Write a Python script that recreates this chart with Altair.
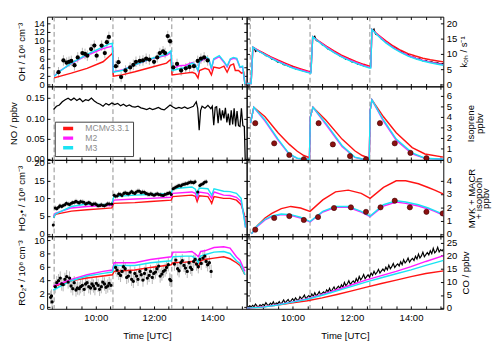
import altair as alt
import pandas as pd

FONT = "Liberation Sans"
MODELS = ["MCMv3.3.1", "M2", "M3"]
MODEL_COLORS = ["#ff1414", "#ff1aff", "#1ae3f3"]
ISO_OBS_COLOR = "#8b1010"
EXP_START = [8.57, 10.59, 12.61]
X_TICKS = [8.5, 9.0, 9.5, 10.0, 10.5, 11.0, 11.5, 12.0, 12.5, 13.0, 13.5, 14.0, 14.5, 15.0]
XDOM_L = [8.33, 15.18]
XDOM_R = [8.45, 15.09]
W_L, W_R = 209, 206
ROW_H = [73, 77, 80, 76]

# ---------------- OH (10^6 cm-3) ----------------
OH_OBS = [(8.72, 2.8), (8.89, 5.5), (9.00, 5.0), (9.08, 5.2), (9.16, 5.4), (9.27, 4.4), (9.38, 6.2),
          (9.54, 7.2), (9.63, 7.0), (9.71, 6.6), (9.84, 8.1), (9.95, 8.9), (10.03, 6.6), (10.20, 8.9),
          (10.31, 7.2), (10.38, 9.7), (10.45, 10.9),
          (10.69, 4.2), (10.78, 5.1), (10.87, 1.7), (11.02, 3.2), (11.18, 3.9), (11.29, 4.5), (11.38, 5.2),
          (11.51, 5.4), (11.62, 5.5), (11.73, 5.9), (11.84, 5.7), (12.00, 5.2), (12.11, 6.2), (12.20, 7.2),
          (12.31, 7.6), (12.38, 7.2), (12.47, 11.1), (12.55, 9.9),
          (12.66, 3.9), (12.79, 4.7), (12.93, 3.2), (13.09, 3.7), (13.22, 4.0), (13.37, 4.2), (13.50, 5.4),
          (13.61, 5.9), (13.72, 6.2), (13.84, 5.5)]
OH_ERR = 1.2
OH_MCM = [(8.57, 1.5), (9.16, 2.6), (9.70, 3.7), (10.25, 5.2), (10.55, 7.0), (10.58, 7.3),
          (10.60, 1.9), (10.90, 2.2), (11.34, 2.9), (11.88, 3.9), (12.43, 4.9), (12.58, 5.8),
          (12.62, 2.2), (13.09, 2.6), (13.31, 2.8), (13.42, 2.5), (13.51, 1.5), (13.56, 3.2), (13.75, 3.7),
          (13.88, 3.4), (13.97, 2.2), (14.05, 4.0), (14.24, 3.7), (14.40, 4.2), (14.51, 2.8), (14.62, 4.4),
          (14.73, 4.7), (14.79, 3.2), (14.90, 3.2), (15.00, 2.6), (15.08, 2.8), (15.12, 0.1)]
OH_T = [8.57, 8.72, 9.16, 9.70, 10.25, 10.47, 10.57, 10.60, 10.90, 11.34, 11.88, 12.43, 12.58, 12.62, 12.87,
        13.09, 13.31, 13.42, 13.51, 13.56, 13.69, 13.80, 13.88, 13.97, 14.05, 14.24, 14.40, 14.51, 14.62,
        14.73, 14.84, 14.95, 15.04, 15.12]
OH_M2 = [1.9, 2.9, 4.8, 6.7, 8.2, 8.6, 8.8, 2.9, 3.3, 4.5, 5.8, 6.7, 7.3, 3.6, 4.3, 4.4, 5.0, 4.5, 3.1, 5.1,
         5.7, 6.0, 5.7, 3.6, 5.7, 6.4, 5.1, 4.0, 5.7, 6.0, 5.8, 3.9, 4.0, 0.1]
OH_M3 = [1.8, 2.8, 4.9, 6.9, 8.6, 9.3, 9.4, 2.8, 3.2, 4.5, 5.9, 6.9, 7.7, 3.2, 3.6, 3.9, 4.9, 4.5, 3.2, 5.2,
         5.9, 6.2, 5.9, 3.7, 5.9, 6.6, 5.3, 4.2, 5.9, 6.2, 6.0, 4.0, 4.2, 0.1]

# ---------------- kOH (s-1) ----------------
KOH_T = [8.45, 8.60, 8.66, 8.80, 9.00, 9.25, 9.50, 9.75, 10.00, 10.25, 10.58, 10.62, 10.68, 10.90, 11.15,
         11.40, 11.65, 11.90, 12.15, 12.40, 12.60, 12.64, 12.68, 12.90, 13.15, 13.40, 13.65, 13.90, 14.15,
         14.40, 14.65, 14.90, 15.10]
KOH_MCM = [0.3, 0.3, 12.2, 11.4, 10.4, 9.1, 8.0, 7.0, 6.0, 5.2, 4.2, 4.2, 15.6, 14.1, 12.5, 11.0, 9.6, 8.5,
           7.5, 6.6, 6.0, 6.0, 18.0, 16.2, 14.3, 12.6, 11.2, 10.1, 9.3, 8.6, 8.1, 7.7, 7.4]
KOH_M2 = [0.3, 0.3, 12.2, 11.3, 10.2, 8.9, 7.7, 6.6, 5.6, 4.8, 3.9, 3.9, 15.6, 14.0, 12.2, 10.6, 9.2, 8.1,
          7.1, 6.2, 5.6, 5.6, 18.0, 16.0, 13.8, 12.1, 10.7, 9.5, 8.6, 7.9, 7.3, 6.8, 6.5]
KOH_M3 = [0.3, 0.3, 12.2, 11.2, 10.1, 8.7, 7.5, 6.4, 5.4, 4.6, 3.7, 3.7, 15.6, 13.8, 12.0, 10.4, 9.0, 7.9,
          6.9, 6.0, 5.4, 5.4, 18.0, 15.8, 13.6, 11.9, 10.5, 9.3, 8.4, 7.7, 7.1, 6.6, 6.3]
KOH_OBS_1 = [(8.66, 11.8), (8.70, 12.0), (8.75, 10.8), (8.80, 11.2), (8.90, 10.6), (9.00, 10.3), (9.10, 9.4),
             (9.20, 9.3), (9.30, 8.3), (9.40, 8.1), (9.50, 7.3), (9.60, 7.2), (9.70, 6.5), (9.80, 6.3),
             (9.90, 5.8), (10.00, 5.9), (10.10, 5.1), (10.20, 5.0), (10.30, 4.6), (10.40, 4.4), (10.50, 4.0)]
KOH_OBS_2 = [(10.70, 15.2), (10.75, 15.8), (10.80, 14.4), (10.90, 14.0), (11.00, 13.0), (11.10, 12.6),
             (11.20, 11.5), (11.30, 11.3), (11.40, 10.5), (11.50, 10.2), (11.60, 9.3), (11.70, 9.0),
             (11.80, 8.2), (11.90, 8.2), (12.00, 7.4), (12.10, 7.3), (12.20, 6.6), (12.30, 6.5),
             (12.40, 6.1), (12.50, 5.9)]
KOH_OBS_3 = [(12.70, 17.6), (12.75, 18.2), (12.80, 16.5), (12.90, 16.0), (13.00, 14.9), (13.10, 14.4),
             (13.20, 13.4), (13.30, 13.0), (13.40, 12.1), (13.50, 11.9), (13.60, 10.9), (13.70, 10.8),
             (13.80, 9.9), (13.90, 9.9), (14.00, 9.0), (14.10, 9.0), (14.20, 8.3), (14.30, 8.4),
             (14.40, 7.7), (14.50, 7.9), (14.60, 7.3), (14.70, 7.4), (14.80, 7.0), (14.90, 7.1),
             (15.00, 6.7), (15.10, 6.9)]

# ---------------- NO (ppbv) ----------------
NO_OBS = [(8.55, 0.122), (8.65, 0.130), (8.75, 0.133), (8.85, 0.141), (8.95, 0.146), (9.05, 0.150),
          (9.15, 0.145), (9.25, 0.150), (9.35, 0.144), (9.45, 0.149), (9.55, 0.141), (9.65, 0.146),
          (9.75, 0.144), (9.85, 0.150), (9.95, 0.143), (10.05, 0.138), (10.15, 0.135), (10.25, 0.130),
          (10.35, 0.137), (10.45, 0.133), (10.55, 0.138), (10.65, 0.134), (10.75, 0.137), (10.85, 0.131),
          (10.95, 0.135), (11.05, 0.130), (11.15, 0.133), (11.25, 0.129), (11.35, 0.128), (11.45, 0.130),
          (11.55, 0.126), (11.65, 0.124), (11.75, 0.122), (11.85, 0.125), (11.95, 0.122), (12.05, 0.124),
          (12.15, 0.127), (12.25, 0.123), (12.35, 0.121), (12.45, 0.127), (12.55, 0.133), (12.65, 0.128),
          (12.75, 0.124), (12.85, 0.127), (12.95, 0.125), (13.05, 0.128), (13.15, 0.124), (13.25, 0.127),
          (13.35, 0.130), (13.45, 0.141), (13.50, 0.125), (13.55, 0.071), (13.60, 0.120), (13.65, 0.130),
          (13.75, 0.125), (13.85, 0.132), (13.95, 0.124), (14.00, 0.130), (14.05, 0.083), (14.10, 0.127),
          (14.15, 0.129), (14.20, 0.088), (14.25, 0.125), (14.30, 0.095), (14.35, 0.120), (14.40, 0.100),
          (14.45, 0.126), (14.50, 0.090), (14.55, 0.112), (14.60, 0.083), (14.65, 0.120), (14.70, 0.085),
          (14.75, 0.125), (14.80, 0.080), (14.85, 0.118), (14.90, 0.082), (14.95, 0.080), (15.00, 0.125),
          (15.05, 0.082), (15.10, 0.080), (15.13, 0.000)]

# ---------------- Isoprene (ppbv) ----------------
ISO_T = [8.58, 8.69, 9.07, 9.51, 9.89, 10.16, 10.38, 10.57, 10.60, 10.69, 11.12, 11.67, 12.10, 12.35, 12.59,
         12.62, 12.68, 13.07, 13.50, 14.04, 14.47, 15.10]
ISO_MCM = [3.4, 4.9, 4.0, 2.5, 1.4, 0.75, 0.35, 0.15, 4.0, 4.9, 3.7, 1.9, 0.8, 0.35, 0.1, 4.6, 5.6, 4.0, 2.5,
           1.1, 0.5, 0.2]
ISO_M2 = [3.4, 4.9, 3.6, 1.8, 0.45, 0.08, 0.02, 0.0, 4.0, 4.9, 3.3, 1.2, 0.18, 0.02, 0.0, 4.6, 5.6, 3.6, 1.8,
          0.5, 0.08, 0.0]
ISO_M3 = [3.4, 4.9, 3.7, 1.9, 0.5, 0.1, 0.02, 0.0, 4.0, 4.9, 3.4, 1.3, 0.2, 0.02, 0.0, 4.6, 5.6, 3.7, 1.9,
          0.6, 0.1, 0.0]
ISO_OBS = [(8.74, 3.4), (9.38, 1.5), (9.89, 0.4), (10.38, 0.0), (10.88, 3.4), (11.36, 1.4), (11.94, 0.3),
           (12.48, 0.0), (12.95, 3.4), (13.45, 1.5), (13.98, 0.6), (14.52, 0.1)]

# ---------------- HO2 (10^8 cm-3) ----------------
HO2_OBS = [(8.54, 2.5), (8.61, 7.3), (8.72, 7.5), (8.83, 7.7), (8.94, 8.2), (9.05, 8.4), (9.16, 8.6),
           (9.27, 8.9), (9.38, 8.9), (9.48, 9.1), (9.59, 8.9), (9.70, 8.6), (9.81, 8.6), (9.92, 8.4),
           (10.03, 8.2), (10.14, 8.0), (10.25, 8.0), (10.36, 8.2), (10.47, 8.4), (10.55, 8.4),
           (10.63, 10.9), (10.74, 10.7), (10.85, 11.1), (10.96, 11.4), (11.07, 11.4), (11.17, 11.5),
           (11.28, 11.6), (11.39, 11.8), (11.50, 12.0), (11.61, 11.8), (11.72, 11.4), (11.83, 11.1),
           (11.94, 11.1), (12.05, 11.1), (12.16, 11.1), (12.27, 10.9), (12.37, 11.1), (12.48, 11.4),
           (12.59, 11.1), (12.65, 12.7), (12.76, 13.2), (12.86, 13.6), (12.97, 13.8), (13.08, 14.1),
           (13.19, 14.4), (13.30, 14.5), (13.41, 14.7), (13.50, 11.8), (13.57, 13.6), (13.68, 14.1),
           (13.79, 14.7),
           (8.66, 7.1), (8.77, 7.9), (8.88, 8.0), (8.99, 8.6), (9.10, 8.3), (9.21, 8.8), (9.32, 9.2),
           (9.43, 8.7), (9.54, 9.0), (9.65, 8.4), (9.76, 8.8), (9.87, 8.2), (9.98, 8.5), (10.08, 7.9),
           (10.19, 8.2), (10.30, 7.9), (10.41, 8.5), (10.68, 10.6), (10.79, 11.2), (10.90, 10.8),
           (11.01, 11.6), (11.12, 11.2), (11.23, 11.9), (11.34, 11.4), (11.45, 12.1), (11.56, 11.6),
           (11.67, 11.7), (11.78, 11.2), (11.89, 11.3), (12.00, 10.9), (12.11, 11.3), (12.22, 11.0),
           (12.32, 10.8), (12.43, 11.2), (12.54, 11.6), (12.70, 12.9), (12.81, 13.4), (12.92, 13.5),
           (13.03, 14.0), (13.14, 14.2), (13.25, 14.6), (13.36, 14.4), (13.62, 13.9), (13.73, 14.5)]
HO2_ERR = 0.7
HO2_T = [8.55, 8.61, 9.16, 9.70, 10.25, 10.55, 10.62, 11.34, 11.88, 12.59, 12.64, 13.30, 13.42, 13.48, 13.55,
         13.85, 13.93, 13.98, 14.06, 14.39, 14.61, 14.83, 14.99, 15.10, 15.14]
HO2_MCM = [4.5, 5.5, 6.4, 6.8, 7.1, 7.3, 8.6, 8.8, 9.1, 9.5, 10.5, 10.9, 10.6, 9.1, 10.7, 10.5, 9.4, 8.6,
           10.5, 10.0, 10.0, 9.5, 8.2, 5.5, 2.5]
HO2_M2 = [5.0, 5.8, 7.3, 7.7, 8.0, 8.0, 9.5, 9.8, 10.0, 10.3, 11.4, 11.8, 11.4, 10.0, 11.8, 11.4, 10.6, 10.0,
          11.8, 10.9, 10.8, 10.3, 9.1, 4.5, 1.8]
HO2_M3 = [4.5, 5.6, 7.7, 8.4, 8.2, 8.4, 10.5, 10.9, 11.1, 11.4, 12.7, 13.2, 12.6, 10.9, 12.9, 12.7, 11.6, 10.9,
          12.7, 12.0, 11.9, 11.4, 10.0, 4.0, 1.8]

# ---------------- MVK + MACR + isopooh (ppbv) ----------------
MVK_T = [8.61, 8.80, 9.07, 9.30, 9.62, 9.94, 10.27, 10.59, 11.02, 11.45, 11.88, 12.32, 12.62, 13.07, 13.50,
         13.82, 14.25, 14.58, 14.80, 15.10]
MVK_MCM = [0.0, 0.6, 1.2, 1.55, 1.9, 2.07, 1.95, 1.7, 2.56, 3.17, 3.3, 3.05, 2.68, 3.5, 4.0, 4.0, 3.78, 3.5,
           3.3, 3.0]
MVK_M2 = [0.0, 0.55, 1.05, 1.3, 1.45, 1.4, 1.2, 0.9, 1.65, 2.0, 2.0, 1.65, 1.3, 2.1, 2.4, 2.3, 2.1, 1.88,
          1.7, 1.4]
MVK_M3 = [0.0, 0.6, 1.1, 1.35, 1.5, 1.45, 1.25, 0.93, 1.7, 2.07, 2.07, 1.7, 1.34, 2.2, 2.5, 2.4, 2.2, 1.95,
          1.75, 1.46]
MVK_OBS = [(8.74, 0.32), (9.38, 1.2), (9.89, 1.34), (10.38, 1.05), (10.86, 1.27), (11.40, 1.95), (11.97, 2.0),
           (12.48, 1.66), (12.97, 2.0), (13.45, 2.5), (13.96, 2.0), (14.52, 1.66), (15.07, 1.54)]

# ---------------- RO2 (10^8 cm-3) ----------------
RO2_OBS = [(8.45, 1.4), (8.48, 1.6), (8.50, 0.7), (8.61, 3.0), (8.72, 3.9), (8.83, 3.4), (8.94, 4.1),
           (9.05, 3.7), (9.10, 4.3), (9.21, 2.7), (9.32, 2.5), (9.43, 2.7), (9.54, 3.2), (9.65, 3.4),
           (9.76, 3.0), (9.87, 3.4), (9.97, 2.7), (10.08, 3.2), (10.19, 3.0), (10.30, 3.4), (10.41, 3.1),
           (10.52, 3.2), (10.68, 5.9), (10.79, 5.0), (10.90, 5.3), (11.01, 5.7), (11.12, 4.6), (11.23, 4.1),
           (11.34, 5.0), (11.45, 4.1), (11.56, 4.8), (11.67, 5.0), (11.77, 4.3), (11.88, 5.3), (11.99, 5.0),
           (12.10, 5.7), (12.21, 4.6), (12.32, 5.3), (12.43, 5.9), (12.54, 4.1), (12.70, 6.4), (12.81, 5.7),
           (12.92, 6.6), (13.03, 6.2), (13.14, 5.3), (13.25, 5.9), (13.36, 6.8), (13.46, 6.4), (13.57, 7.1),
           (13.68, 7.3), (13.79, 6.8), (13.90, 6.6), (13.96, 5.3),
           (8.66, 3.6), (8.78, 4.3), (8.88, 3.3), (9.00, 4.5), (9.15, 3.1), (9.26, 3.6), (9.37, 2.8),
           (9.48, 3.0), (9.60, 2.6), (9.70, 3.6), (9.82, 2.8), (9.92, 3.1), (10.02, 3.5), (10.13, 2.6),
           (10.24, 3.7), (10.35, 2.9), (10.46, 3.5), (10.73, 5.5), (10.85, 4.7), (10.95, 6.0), (11.06, 4.4),
           (11.18, 5.2), (11.29, 3.8), (11.40, 4.6), (11.51, 5.3), (11.62, 4.0), (11.72, 5.6), (11.83, 4.7),
           (11.94, 4.4), (12.05, 5.2), (12.16, 6.1), (12.27, 4.9), (12.38, 5.5), (12.49, 6.3), (12.58, 3.9),
           (12.75, 7.0), (12.86, 5.4), (12.97, 6.9), (13.08, 5.8), (13.20, 6.6), (13.30, 5.6), (13.41, 7.1),
           (13.52, 6.0), (13.62, 6.5), (13.74, 7.6), (13.84, 6.3)]
RO2_ERR = 1.0
RO2_T = [8.54, 9.16, 9.70, 10.25, 10.57, 10.63, 11.34, 11.88, 12.59, 12.65, 13.08, 13.30, 13.45, 13.52, 13.60,
         13.74, 14.06, 14.39, 14.61, 14.83, 14.95, 15.05, 15.12]
RO2_MCM = [3.0, 3.9, 4.3, 4.6, 4.8, 5.3, 5.5, 5.9, 6.3, 6.6, 6.7, 6.8, 6.5, 5.9, 6.9, 7.1, 7.3, 7.5, 7.2, 6.6,
           6.2, 5.4, 4.8]
RO2_M2 = [3.1, 4.1, 4.8, 5.3, 5.5, 6.6, 6.6, 7.1, 7.5, 8.2, 8.2, 8.3, 7.8, 7.5, 8.3, 8.4, 8.9, 9.0, 8.8, 7.5,
          7.0, 6.0, 5.3]
RO2_M3 = [2.5, 3.9, 4.6, 5.0, 5.2, 6.2, 6.2, 6.6, 6.9, 7.5, 7.6, 7.6, 7.2, 6.6, 7.6, 7.8, 8.2, 8.3, 8.0, 6.9,
          6.5, 5.5, 4.8]

# ---------------- CO (ppbv) ----------------
CO_T = [8.45, 9.0, 9.5, 10.0, 10.5, 11.0, 11.5, 12.0, 12.5, 13.0, 13.5, 14.0, 14.5, 15.1]
CO_MCM = [0.0, 0.5, 1.2, 2.0, 2.8, 3.9, 5.2, 6.6, 8.0, 9.4, 10.7, 12.0, 13.2, 14.2]
CO_M2 = [0.0, 0.5, 1.3, 2.4, 3.6, 5.2, 7.0, 8.9, 10.8, 12.4, 14.0, 15.8, 17.8, 20.0]
CO_M3 = [0.0, 0.4, 1.2, 2.3, 3.4, 4.9, 6.6, 8.3, 10.0, 11.6, 13.1, 14.6, 16.3, 18.2]
CO_OBS_START, CO_OBS_STEP = 8.50, 0.05
CO_OBS = [0.4, 0.9, 0.3, 1.1, 0.6, 1.6, 0.8, 0.5, 1.3, 0.9, 1.5,
          1.0, 2.1, 1.3, 1.1, 1.9, 1.4, 2.4, 1.2, 2.0, 1.7,
          2.5, 1.6, 2.2, 3.1, 2.0, 2.7, 3.3, 2.3, 2.9, 3.6,
          2.8, 3.9, 3.2, 2.9, 4.4, 3.6, 4.1, 5.0, 3.5, 4.3,
          4.8, 4.1, 5.4, 4.5, 5.9, 4.7, 5.3, 6.3, 5.0, 5.7,
          6.2, 5.5, 7.0, 6.3, 7.6, 6.1, 7.2, 8.1, 6.8, 7.7,
          8.4, 7.5, 8.9, 8.0, 9.8, 8.6, 9.3, 10.5, 9.0, 9.8,
          10.4, 9.6, 11.3, 10.2, 12.1, 10.8, 11.6, 12.8, 11.2, 12.0,
          12.7, 11.8, 13.4, 12.5, 14.1, 12.9, 13.6, 14.8, 13.4, 14.2,
          14.9, 14.1, 15.6, 14.6, 16.4, 15.0, 15.8, 17.0, 15.5, 16.3,
          16.9, 16.1, 17.7, 16.6, 18.5, 17.2, 17.9, 19.1, 17.5, 18.4,
          19.0, 18.2, 19.8, 18.7, 20.6, 19.1, 19.9, 21.3, 19.6, 20.4,
          21.2, 20.3, 21.9, 20.8, 22.8, 21.1, 21.7, 23.2, 21.4, 22.3, 21.8, 22.6]

# ---------------- helpers ----------------
TICK = 3
COLOR_SCALE = alt.Scale(domain=MODELS, range=MODEL_COLORS)


def models_df(t, m2, m3, mcm, t_mcm=None):
    rows = []
    tm = t if t_mcm is None else t_mcm
    for a, b in zip(tm, mcm):
        rows.append({"t": a, "v": b, "model": MODELS[0]})
    for a, b in zip(t, m2):
        rows.append({"t": a, "v": b, "model": MODELS[1]})
    for a, b in zip(t, m3):
        rows.append({"t": a, "v": b, "model": MODELS[2]})
    return pd.DataFrame(rows)


def pairs_df(pairs, seg=0):
    return pd.DataFrame({"t": [p[0] for p in pairs], "v": [p[1] for p in pairs], "seg": seg})


def err_df(pairs, err):
    return pd.DataFrame({"t": [p[0] for p in pairs], "lo": [p[1] - err for p in pairs],
                         "hi": [p[1] + err for p in pairs]})


def xs(dom, axis):
    return alt.X("t:Q", scale=alt.Scale(domain=dom, nice=False, zero=False), axis=axis)


def ys(dom, axis, field="v"):
    return alt.Y(field + ":Q", scale=alt.Scale(domain=dom, nice=False, zero=False), axis=axis)


def y_axis(orient, values, title, tpad=8, lh=None):
    kw = dict(orient=orient, values=values, title=title, offset=-TICK, tickSize=TICK,
              labelPadding=3, titlePadding=tpad)
    if orient == "right":
        kw.update(titleAngle=270, titleBaseline="top")
    if lh is not None:
        kw["titleLineHeight"] = lh
    return alt.Axis(**kw)


def y_axis_opp(orient, values):
    return alt.Axis(orient=orient, values=values, offset=-TICK, tickSize=TICK, labels=False, title=None)


def x_axis_bottom(labels):
    if labels:
        return alt.Axis(orient="bottom", values=X_TICKS, offset=-TICK, tickSize=TICK,
                        labelExpr="datum.value % 2 == 0 ? datum.value + ':00' : ''",
                        title="Time [UTC]", labelPadding=4, titlePadding=9)
    return alt.Axis(orient="bottom", values=X_TICKS, offset=-TICK, tickSize=TICK, labels=False, title=None)


def x_axis_top():
    return alt.Axis(orient="top", values=X_TICKS, offset=-TICK, tickSize=TICK, labels=False, title=None)


def dashed(xdom):
    return alt.Chart(pd.DataFrame({"t": EXP_START})).mark_rule(
        color="#8c8c8c", strokeDash=[5, 3], strokeWidth=1).encode(x=xs(xdom, x_axis_top()))


def model_lines(df, xdom, ydom, yax, xax=None, legend=None):
    return alt.Chart(df).mark_line(strokeWidth=1.5, clip=True).encode(
        x=xs(xdom, xax), y=ys(ydom, yax),
        color=alt.Color("model:N", scale=COLOR_SCALE, legend=legend))


def obs_points(df, xdom, ydom, yax, size, color="black", stroke=None, xax=None):
    kw = dict(filled=True, size=size, color=color, opacity=1, clip=True)
    if stroke:
        kw.update(stroke=stroke, strokeWidth=0.6)
    return alt.Chart(df).mark_point(**kw).encode(x=xs(xdom, xax), y=ys(ydom, yax))


def obs_line(df, xdom, ydom, yax, width=1.1, xax=None):
    return alt.Chart(df).mark_line(color="black", strokeWidth=width, clip=True).encode(
        x=xs(xdom, xax), y=ys(ydom, yax), detail="seg:N")


def err_bars(df, xdom, ydom, yax, xax=None):
    return alt.Chart(df).mark_rule(color="#b4b4b4", strokeWidth=1, clip=True).encode(
        x=xs(xdom, xax), y=ys(ydom, yax, "lo"), y2="hi:Q")


def panel(layers, w, h):
    return alt.layer(*layers).resolve_axis(x="independent", y="independent").properties(width=w, height=h)


# ---------------- panels ----------------
OH_YDOM = [-0.44, 15.53]
KOH_YDOM = [-0.63, 22.19]
NO_YDOM = [-0.0024, 0.179]
ISO_YDOM = [-0.06, 6.87]
HO2_YDOM = [-0.67, 20.83]
MVK_YDOM = [-0.18, 5.58]
RO2_YDOM = [-0.33, 10.59]
CO_YDOM = [-0.25, 27.4]

v = [0, 2, 4, 6, 8, 10, 12, 14]
p_oh = panel([
    dashed(XDOM_L),
    err_bars(err_df(OH_OBS, OH_ERR), XDOM_L, OH_YDOM, y_axis("left", v, "OH / 10⁶ cm⁻³"),
             xax=x_axis_bottom(False)),
    model_lines(models_df(OH_T, OH_M2, OH_M3, [b for _, b in OH_MCM], [a for a, _ in OH_MCM]),
                XDOM_L, OH_YDOM, y_axis_opp("right", v)),
    obs_points(pairs_df(OH_OBS), XDOM_L, OH_YDOM, None, 20),
], W_L, ROW_H[0])

v = [0, 5, 10, 15, 20]
koh_obs = pd.concat([pairs_df(KOH_OBS_1, 1), pairs_df(KOH_OBS_2, 2), pairs_df(KOH_OBS_3, 3)])
p_koh = panel([
    dashed(XDOM_R),
    obs_line(koh_obs, XDOM_R, KOH_YDOM, y_axis("right", v, "kₒₕ / s⁻¹", tpad=2), 1.2,
             xax=x_axis_bottom(False)),
    model_lines(models_df(KOH_T, KOH_M2, KOH_M3, KOH_MCM), XDOM_R, KOH_YDOM, y_axis_opp("left", v)),
], W_R, ROW_H[0])

legend = alt.Legend(orient="none", legendX=8, legendY=37, title=None, symbolType="stroke",
                    symbolSize=110, symbolStrokeWidth=3.5, symbolOpacity=1, labelFontSize=9,
                    labelFont=FONT, labelColor="#8c8c8c", strokeColor="#3a3a3a", fillColor="white",
                    padding=3, rowPadding=0.1, clipHeight=8.2, labelOffset=11, symbolOffset=4)
empty_models = pd.DataFrame({"t": pd.Series([], dtype=float), "v": pd.Series([], dtype=float),
                             "model": pd.Series([], dtype=str)})
v = [0.0, 0.05, 0.10, 0.15]
p_no = panel([
    dashed(XDOM_L),
    obs_line(pairs_df(NO_OBS), XDOM_L, NO_YDOM, y_axis("left", v, "NO / ppbv"), 1.3,
             xax=x_axis_bottom(False)),
    alt.Chart(empty_models).mark_line(strokeWidth=3.5).encode(
        x=xs(XDOM_L, None), y=ys(NO_YDOM, y_axis_opp("right", v)),
        color=alt.Color("model:N", scale=COLOR_SCALE, legend=legend)),
], W_L, ROW_H[1])

v = [0, 1, 2, 3, 4, 5, 6]
p_iso = panel([
    dashed(XDOM_R),
    model_lines(models_df(ISO_T, ISO_M2, ISO_M3, ISO_MCM), XDOM_R, ISO_YDOM,
                y_axis("right", v, ["Isoprene", "ppbv"], tpad=5, lh=10), xax=x_axis_bottom(False)),
    obs_points(pairs_df(ISO_OBS), XDOM_R, ISO_YDOM, y_axis_opp("left", v), 30, color=ISO_OBS_COLOR,
               stroke="#3a0000"),
], W_R, ROW_H[1])

v = [0, 5, 10, 15, 20]
p_ho2 = panel([
    dashed(XDOM_L),
    err_bars(err_df(HO2_OBS, HO2_ERR), XDOM_L, HO2_YDOM, y_axis("left", v, "HO₂• / 10⁸ cm⁻³"),
             xax=x_axis_bottom(False)),
    model_lines(models_df(HO2_T, HO2_M2, HO2_M3, HO2_MCM), XDOM_L, HO2_YDOM, y_axis_opp("right", v)),
    obs_points(pairs_df(HO2_OBS), XDOM_L, HO2_YDOM, None, 10),
], W_L, ROW_H[2])

v = [0, 1, 2, 3, 4]
p_mvk = panel([
    dashed(XDOM_R),
    model_lines(models_df(MVK_T, MVK_M2, MVK_M3, MVK_MCM), XDOM_R, MVK_YDOM,
                y_axis("right", v, ["MVK + MACR", "+ isopooh", "ppbv"], tpad=1, lh=7.5),
                xax=x_axis_bottom(False)),
    obs_points(pairs_df(MVK_OBS), XDOM_R, MVK_YDOM, y_axis_opp("left", v), 30, color=ISO_OBS_COLOR,
               stroke="#3a0000"),
], W_R, ROW_H[2])

v = [0, 2, 4, 6, 8, 10]
p_ro2 = panel([
    dashed(XDOM_L),
    err_bars(err_df(RO2_OBS, RO2_ERR), XDOM_L, RO2_YDOM, y_axis("left", v, "RO₂• / 10⁸ cm⁻³"),
             xax=x_axis_bottom(True)),
    model_lines(models_df(RO2_T, RO2_M2, RO2_M3, RO2_MCM), XDOM_L, RO2_YDOM, y_axis_opp("right", v)),
    obs_points(pairs_df(RO2_OBS), XDOM_L, RO2_YDOM, None, 12),
], W_L, ROW_H[3])

v = [0, 5, 10, 15, 20, 25]
co_obs = pd.DataFrame({"t": [round(CO_OBS_START + CO_OBS_STEP * i, 3) for i in range(len(CO_OBS))],
                       "v": CO_OBS, "seg": 0})
p_co = panel([
    dashed(XDOM_R),
    obs_line(co_obs, XDOM_R, CO_YDOM, y_axis("right", v, "CO / ppbv", tpad=4), 1.2,
             xax=x_axis_bottom(True)),
    model_lines(models_df(CO_T, CO_M2, CO_M3, CO_MCM), XDOM_R, CO_YDOM, y_axis_opp("left", v)),
], W_R, ROW_H[3])

chart = alt.concat(
    p_oh, p_koh, p_no, p_iso, p_ho2, p_mvk, p_ro2, p_co,
    columns=2, spacing=0, bounds="flush", align="each",
).resolve_legend(color="independent").properties(
    padding=0, background="white"
).configure_view(
    stroke="black", strokeWidth=1
).configure_axis(
    labelFont=FONT, titleFont=FONT, labelFontSize=10, titleFontSize=10, titleFontWeight="normal",
    labelColor="black", titleColor="black", tickColor="black", domain=False, grid=False,
    labelOverlap=False
)

chart.save("out.html", embed_options={"renderer": "svg", "actions": False})
